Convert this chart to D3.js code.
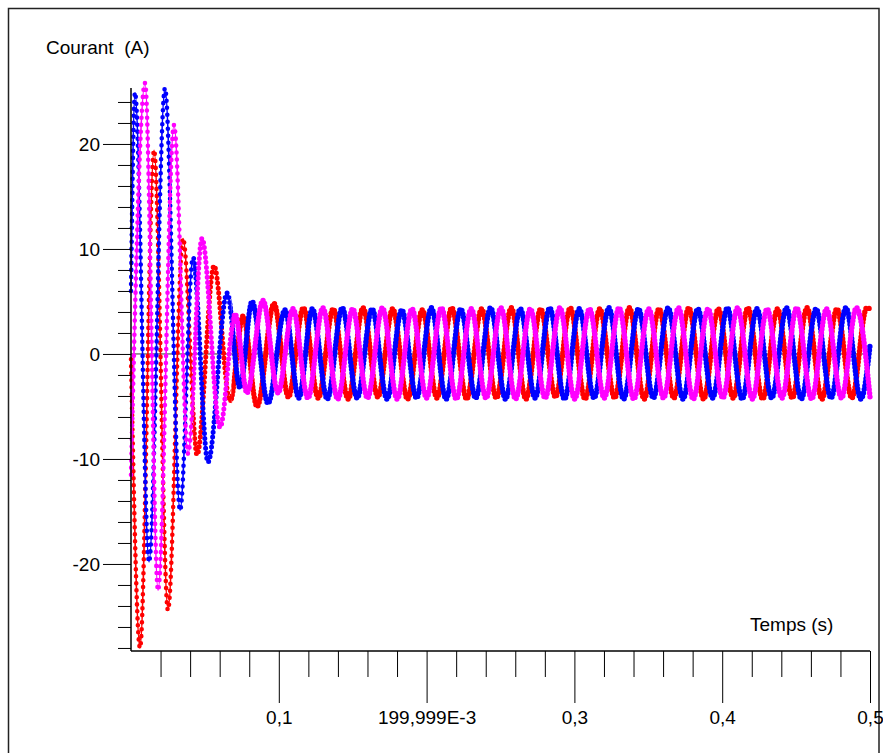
<!DOCTYPE html>
<html><head><meta charset="utf-8">
<script src="https://cdn.jsdelivr.net/npm/d3@7"></script>
<style>
body{margin:0;background:#fff}
svg{display:block}
text{font-family:"Liberation Sans",Arial,sans-serif;fill:#000}
</style>
</head><body>
<svg id="c" width="883" height="753"></svg>
<script>
// ---- data ----
const xMajorTicks = [0.1, 0.2, 0.3, 0.4, 0.5];
const xMajorLabels = ["0,1", "199,999E-3", "0,3", "0,4", "0,5"];
const xMinorTicks = [0.02,0.04,0.06,0.08,0.12,0.14,0.16,0.18,0.22,0.24,0.26,0.28,0.32,0.34,0.36,0.38,0.42,0.44,0.46,0.48];
const yMajorTicks = [-20, -10, 0, 10, 20];
const yMajorLabels = ["-20", "-10", "0", "10", "20"];
const yMinorTicks = [-28,-26,-24,-22,-18,-16,-14,-12,-8,-6,-4,-2,2,4,6,8,12,14,16,18,22,24];

// extrema of each phase current [time (s), current (A)]
const redPhase = [[0,-0.5],[0.0061,-28.0],[0.0156,19.4],[0.0250,-24.4],[0.0352,11.0],[0.0447,-9.6],[0.0562,8.4],[0.0670,-4.5],[0.0758,3.6],[0.0853,-5.0],[0.0968,4.8],[0.1065,-4.1],[0.1166,4.4],[0.1267,-4.2],[0.1368,4.3],[0.1469,-4.3],[0.1570,4.4],[0.1670,-4.1],[0.1771,4.3],[0.1871,-4.3],[0.1971,4.2],[0.2070,-4.2],[0.2170,4.4],[0.2271,-4.3],[0.2372,4.3],[0.2472,-4.2],[0.2573,4.4],[0.2672,-4.3],[0.2772,4.3],[0.2872,-4.1],[0.2972,4.4],[0.3072,-4.3],[0.3172,4.3],[0.3272,-4.2],[0.3372,4.4],[0.3472,-4.3],[0.3573,4.3],[0.3673,-4.2],[0.3774,4.4],[0.3874,-4.3],[0.3974,4.3],[0.4074,-4.2],[0.4174,4.4],[0.4274,-4.3],[0.4374,4.3],[0.4474,-4.2],[0.4574,4.4],[0.4675,-4.3],[0.4776,4.3],[0.4877,-4.2],[0.4978,4.4],[0.5,4.3]];
const bluePhase = [[0,6.0],[0.0027,24.9],[0.0122,-19.8],[0.0230,25.3],[0.0332,-14.9],[0.0419,9.2],[0.0521,-10.3],[0.0650,5.8],[0.0737,-3.2],[0.0819,5.0],[0.0927,-4.7],[0.1042,4.2],[0.1135,-4.2],[0.1227,4.3],[0.1328,-4.3],[0.1429,4.4],[0.1530,-4.2],[0.1631,4.3],[0.1732,-4.3],[0.1832,4.2],[0.1932,-4.2],[0.2032,4.4],[0.2132,-4.3],[0.2231,4.3],[0.2332,-4.2],[0.2433,4.4],[0.2534,-4.3],[0.2634,4.3],[0.2734,-4.2],[0.2833,4.4],[0.2933,-4.3],[0.3033,4.3],[0.3133,-4.2],[0.3233,4.4],[0.3333,-4.3],[0.3433,4.3],[0.3534,-4.2],[0.3634,4.4],[0.3735,-4.3],[0.3835,4.3],[0.3935,-4.2],[0.4035,4.4],[0.4135,-4.3],[0.4235,4.3],[0.4335,-4.2],[0.4435,4.4],[0.4535,-4.3],[0.4635,4.3],[0.4736,-4.2],[0.4837,4.4],[0.4938,-4.3],[0.5,0.8]];
const magentaPhase = [[0,-11.5],[0.0095,25.8],[0.0183,-22.5],[0.0291,21.8],[0.0386,-9.5],[0.0480,11.0],[0.0602,-7.0],[0.0704,3.8],[0.0785,-3.7],[0.0893,5.1],[0.0995,-3.7],[0.1096,4.3],[0.1197,-4.2],[0.1298,4.4],[0.1399,-4.3],[0.1500,4.3],[0.1600,-4.2],[0.1701,4.4],[0.1801,-4.3],[0.1901,4.3],[0.2000,-4.2],[0.2100,4.4],[0.2201,-4.3],[0.2302,4.3],[0.2402,-4.2],[0.2503,4.4],[0.2602,-4.3],[0.2702,4.3],[0.2802,-4.2],[0.2902,4.4],[0.3002,-4.3],[0.3102,4.3],[0.3202,-4.2],[0.3302,4.4],[0.3402,-4.3],[0.3503,4.3],[0.3603,-4.2],[0.3704,4.4],[0.3804,-4.3],[0.3904,4.3],[0.4004,-4.2],[0.4104,4.4],[0.4204,-4.3],[0.4304,4.3],[0.4404,-4.2],[0.4504,4.4],[0.4605,-4.3],[0.4706,4.3],[0.4807,-4.2],[0.4908,4.4],[0.5,-4.1]];

const seriesList = [
  {name: "I1", color: "#ff0000", values: redPhase},
  {name: "I2", color: "#0000ff", values: bluePhase},
  {name: "I3", color: "#ff00ff", values: magentaPhase}
];
// marker density zones (large swings -> sparse samples along the trace)
const zoneBounds = [0, 0.042, 0.068, 0.5];
const zoneDash = ["0 7", "0 5", "0 3.6"];
const zoneWidth = [4.6, 5.0, 5.4];

// ---- drawing ----
const svg = d3.select("#c");
const x = d3.scaleLinear().domain([0, 0.5]).range([131, 870]);
const y = d3.scaleLinear().domain([-28.29, 25.33]).range([651, 88]);

const defs = svg.append("defs");
zoneDash.forEach((_, i) => {
  const x0 = i === 0 ? 0 : x(zoneBounds[i]);
  const x1 = i === zoneDash.length - 1 ? 883 : x(zoneBounds[i + 1]);
  defs.append("clipPath").attr("id", "zone" + i).append("rect")
    .attr("x", x0).attr("y", 0).attr("width", x1 - x0).attr("height", 753);
});

// frame
svg.append("path")
  .attr("d", "M8.5,753 V8.5 H879 V753")
  .attr("fill", "none").attr("stroke", "#222").attr("stroke-width", 1.5);

// zero line
svg.append("line")
  .attr("x1", x(0)).attr("x2", x(0.5))
  .attr("y1", y(0)).attr("y2", y(0))
  .attr("stroke", "#333").attr("stroke-width", 1);

// curves
const line = d3.line().x(d => x(d[0])).y(d => y(d[1])).curve(d3.curveMonotoneX);
const gS = svg.append("g");
seriesList.forEach(s => {
  const d = line(s.values);
  gS.append("path").attr("d", d)
    .attr("fill", "none").attr("stroke", s.color).attr("stroke-width", 1.6);
  zoneDash.forEach((dash, i) => {
    gS.append("path").attr("d", d).attr("clip-path", `url(#zone${i})`)
      .attr("fill", "none").attr("stroke", s.color).attr("stroke-width", zoneWidth[i])
      .attr("stroke-linecap", "round").attr("stroke-dasharray", dash);
  });
});

// x axis
const gx = svg.append("g").attr("transform", `translate(0,${y.range()[0]})`);
gx.call(d3.axisBottom(x).tickValues(xMinorTicks).tickSize(26).tickFormat(""));
gx.append("g").call(d3.axisBottom(x).tickValues(xMajorTicks).tickSize(52).tickPadding(8)
   .tickFormat((d, i) => xMajorLabels[i]));
gx.selectAll("g g path.domain").remove();
gx.select("path.domain").attr("d", `M${x(0)},0H${x(0.5)}`).attr("stroke-width", 1.5);
gx.selectAll("text").style("font-size", "19px").style("font-family", "'Liberation Sans',Arial,sans-serif").attr("fill", "#000");
gx.selectAll("line").attr("stroke", "#000");

// y axis
const gy = svg.append("g").attr("transform", `translate(${x(0)},0)`);
gy.call(d3.axisLeft(y).tickValues(yMinorTicks).tickSize(13).tickFormat(""));
gy.append("g").call(d3.axisLeft(y).tickValues(yMajorTicks).tickSize(28).tickPadding(3)
   .tickFormat((d, i) => yMajorLabels[i]));
gy.selectAll("g g path.domain").remove();
gy.select("path.domain").attr("d", `M0,${y.range()[1]}V${y.range()[0]}`).attr("stroke-width", 1.5);
gy.selectAll("text").style("font-size", "19px").style("font-family", "'Liberation Sans',Arial,sans-serif").attr("fill", "#000");
gy.selectAll("line").attr("stroke", "#000");

// axis titles
svg.append("text").attr("x", 46).attr("y", 54).style("font-size", "19px").text("Courant  (A)").attr("xml:space", "preserve").style("white-space", "pre");
svg.append("text").attr("x", 750).attr("y", 631).style("font-size", "19px").text("Temps (s)");
</script>
</body></html>
